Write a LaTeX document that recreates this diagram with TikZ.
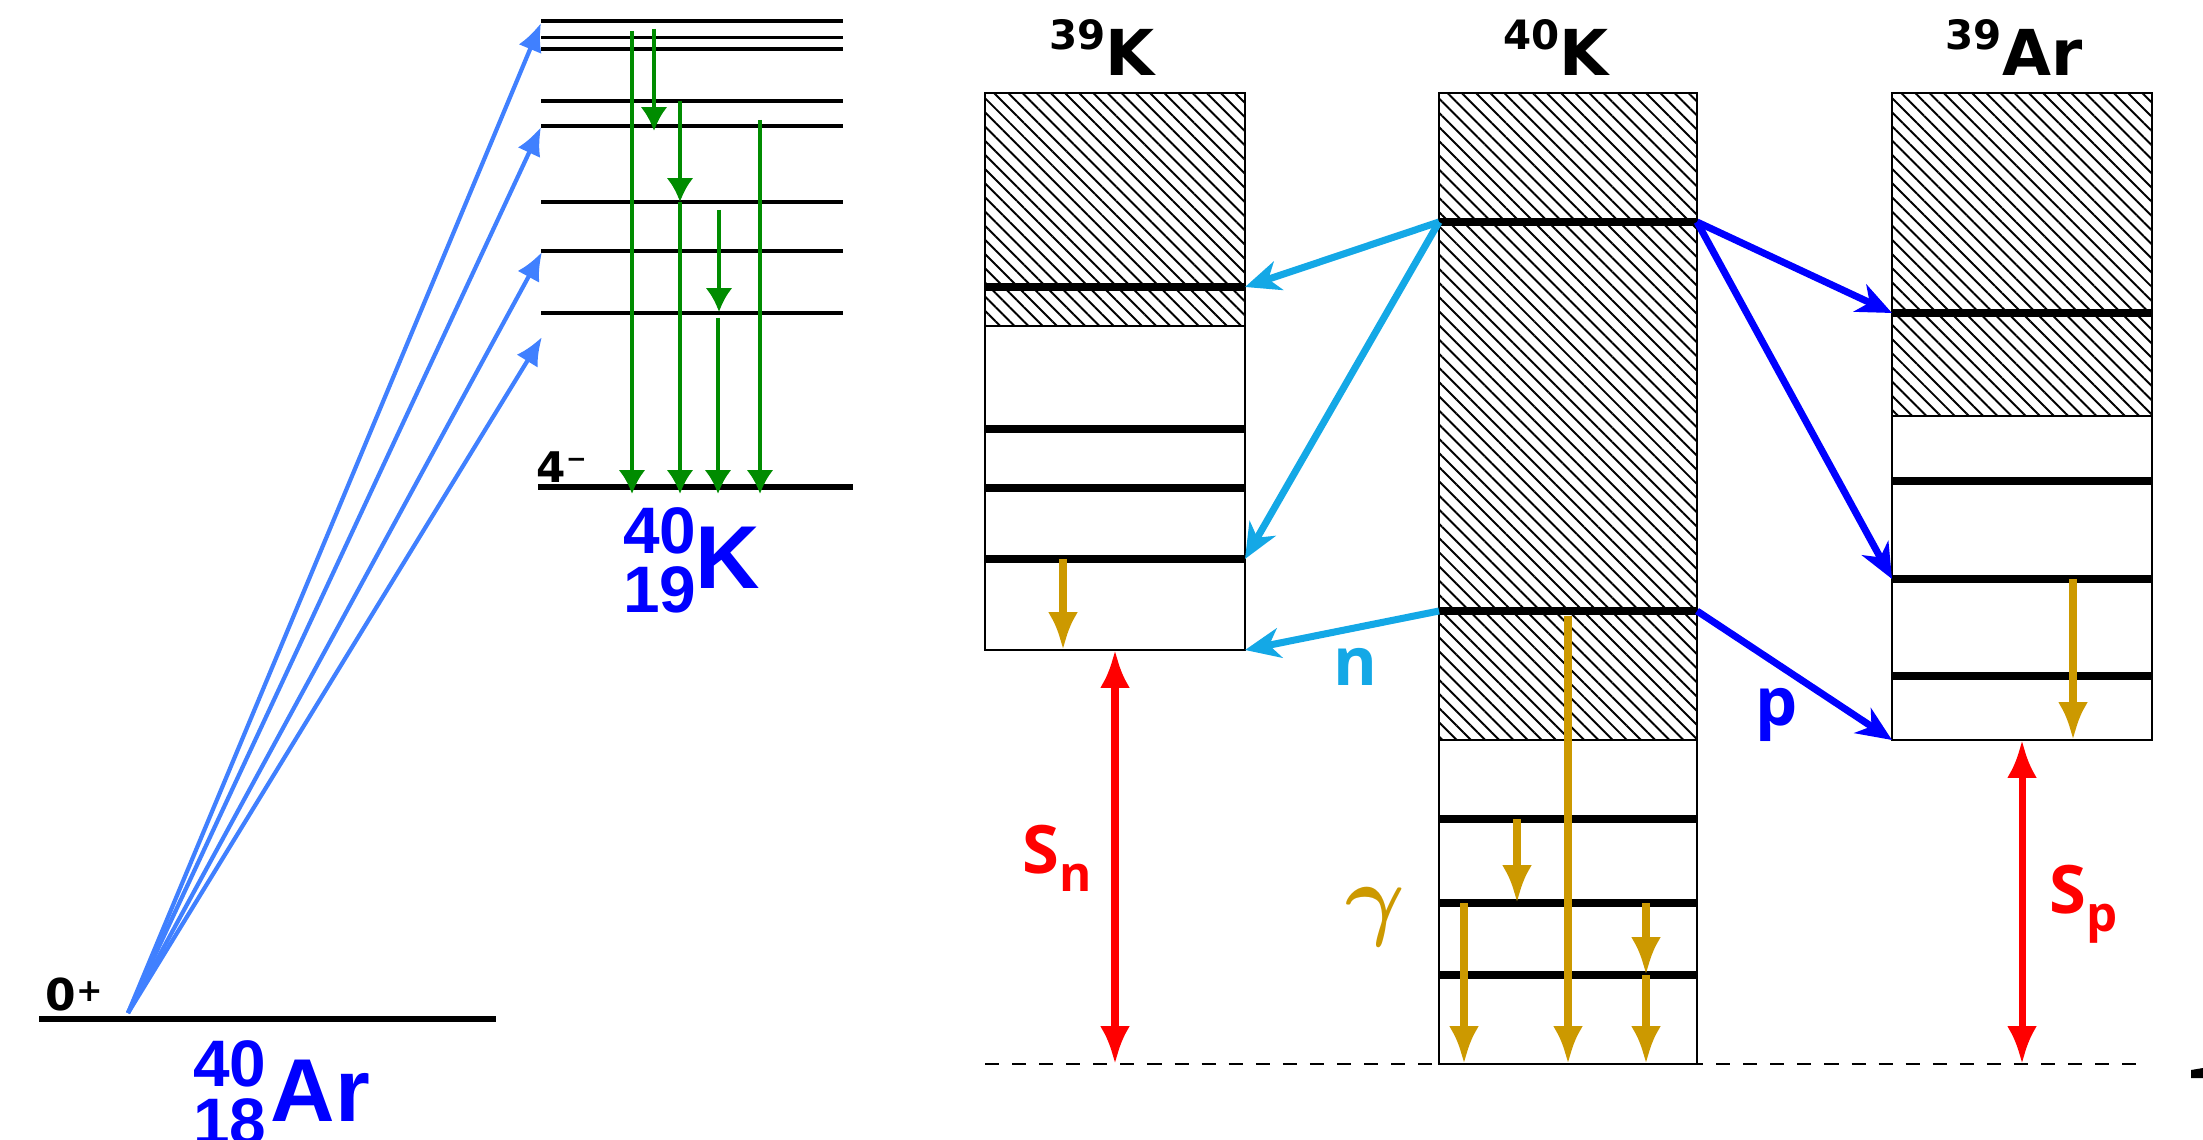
\documentclass[tikz,border=0pt]{standalone}
\usepackage{fontspec}
\usepackage{graphicx}
\usetikzlibrary{arrows.meta,patterns.meta}
\newfontfamily\dejav{DejaVu Sans}
\newfontfamily\libsans{Liberation Sans}
\newfontfamily\opensans{Open Sans}
\definecolor{lblue}{RGB}{64,128,255}
\definecolor{dgreen}{RGB}{0,140,0}
\definecolor{cyanarr}{RGB}{20,168,230}
\definecolor{goldarr}{RGB}{204,153,0}
\definecolor{pureblue}{RGB}{0,0,255}
\definecolor{purered}{RGB}{255,0,0}
\newcommand\isosup[1]{\raisebox{7.4pt}{\fontsize{11.5}{12}\selectfont #1}}
\begin{document}
\begin{tikzpicture}[x=0.01cm,y=-0.01cm,
  lvl/.style={line width=0.95pt},
  gndlvl/.style={line width=1.5pt},
  thicklvl/.style={line width=2.2pt},
  boxout/.style={line width=0.6pt},
  hatchfill/.style={pattern={Lines[angle=-45,distance=2.85pt,line width=0.55pt]}},
  excarr/.style={lblue,line width=1.2pt,-{Latex[length=8pt,width=7pt]}},
  greenarr/.style={dgreen,line width=1.1pt,-{Latex[length=6.8pt,width=7.6pt]}},
  goldgam/.style={goldarr,line width=2.2pt,-{Latex[length=10.8pt,width=8.5pt]}},
  narr/.style={cyanarr,line width=2pt,-{Stealth[length=10pt,width=8.5pt,inset=3pt]}},
  parr/.style={pureblue,line width=2pt,-{Stealth[length=10pt,width=8.5pt,inset=3pt]}},
  separr/.style={purered,line width=2pt,{Latex[length=10.8pt,width=8.5pt]}-{Latex[length=10.8pt,width=8.5pt]}},
  titlef/.style={inner sep=0pt,font=\dejav\bfseries\fontsize{18}{20}\selectfont,anchor=base},
  nucdig/.style={inner sep=0pt,text depth=0pt,text=pureblue,font=\libsans\bfseries\fontsize{18.7}{20}\selectfont,anchor=base east},
  nucel/.style={inner sep=0pt,text=pureblue,font=\libsans\bfseries\fontsize{25.4}{27}\selectfont,anchor=base west},
  spinf/.style={inner sep=0pt,anchor=base west,font=\dejav\bfseries},
  partf/.style={inner sep=0pt,anchor=base west,font=\opensans\bfseries\fontsize{19}{20}\selectfont}
]
\useasboundingbox (0,0) rectangle (2203,1140);

% ---------- left: 40Ar ground state ----------
\draw[gndlvl] (39,1019) -- (496,1019);
\node[spinf] (spinAr) at (45,1010) {\fontsize{12.5}{13}\selectfont 0\raisebox{2.3pt}{\fontsize{9}{9}\selectfont +}};
\node[nucdig] (ArA) at (267,1086) {40};
\node[nucdig] (ArZ) at (267,1144) {18};
\node[nucel] (ArEl) at (270,1121) {Ar};

% ---------- left: 40K levels ----------
\foreach \yy in {21,37.5,49,101,126,202,251,313}
  \draw[lvl] (541,\yy) -- (843,\yy);
\draw[gndlvl] (538,487) -- (853,487);
\node[spinf] (spinK) at (536,482) {\fontsize{12}{13}\selectfont 4\raisebox{4.1pt}{\fontsize{7}{7}\selectfont \symbol{"2212}}};
\node[nucdig] (KA) at (697,554) {40};
\node[nucdig] (KZ) at (697,612) {19};
\node[nucel] (KEl) at (695,588) {K};

% excitation arrows
\coordinate (src) at (128,1013);
\coordinate (e1) at (541,23);
\coordinate (e2) at (541,127);
\coordinate (e3) at (542,252);
\coordinate (e4) at (542,337);
\foreach \t in {e1,e2,e3,e4} \draw[excarr] (src) -- (\t);

% green gamma cascade
\coordinate (g1a) at (632,31);  \coordinate (g1b) at (632,494);
\coordinate (g2a) at (654,29);  \coordinate (g2b) at (654,131);
\coordinate (g3a) at (680,101); \coordinate (g3b) at (680,202); \coordinate (g3c) at (680,494);
\coordinate (g4a) at (719,210); \coordinate (g4b) at (719,312);
\coordinate (g5a) at (718,318); \coordinate (g5b) at (718,494);
\coordinate (g6a) at (760,120); \coordinate (g6b) at (760,494);
\draw[greenarr] (g1a) -- (g1b);
\draw[greenarr] (g2a) -- (g2b);
\draw[greenarr] (g3a) -- (g3b);
\draw[greenarr] (g3b) -- (g3c);
\draw[greenarr] (g4a) -- (g4b);
\draw[greenarr] (g5a) -- (g5b);
\draw[greenarr] (g6a) -- (g6b);

% ---------- dashed reference line ----------
\draw[line width=0.6pt,dash pattern=on 4pt off 3.7pt] (985,1064) -- (2148,1064);

% ---------- 39K box ----------
\fill[hatchfill] (985,93) rectangle (1245,326);
\draw[boxout] (985,326) -- (1245,326);
\draw[boxout] (985,93) rectangle (1245,650);
\foreach \yy in {287,429,488,559} \draw[thicklvl] (985,\yy) -- (1245,\yy);
\node[titlef] (t39K) at (1102,76) {\isosup{39}K};
\draw[goldgam] (1063,559) -- (1063,650);

% ---------- 40K box ----------
\fill[hatchfill] (1439,93) rectangle (1697,740);
\draw[boxout] (1439,740) -- (1697,740);
\draw[boxout] (1439,93) rectangle (1697,1064);
\foreach \yy in {222,611,819,903,975} \draw[thicklvl] (1439,\yy) -- (1697,\yy);
\node[titlef] (t40K) at (1556,76) {\isosup{40}K};
\draw[goldgam] (1568,616) -- (1568,1064);
\draw[goldgam] (1517,819) -- (1517,903);
\draw[goldgam] (1464,903) -- (1464,1064);
\draw[goldgam] (1646,903) -- (1646,975);
\draw[goldgam] (1646,975) -- (1646,1064);
\node[inner sep=0pt,text=goldarr] (gam) at (1375,917) {\scalebox{2.6}{\boldmath$\gamma$}};

% ---------- 39Ar box ----------
\fill[hatchfill] (1892,93) rectangle (2152,416);
\draw[boxout] (1892,416) -- (2152,416);
\draw[boxout] (1892,93) rectangle (2152,740);
\foreach \yy in {313,481,579,676} \draw[thicklvl] (1892,\yy) -- (2152,\yy);
\node[titlef] (t39Ar) at (2014,76) {\isosup{39}Ar};
\draw[goldgam] (2073,579) -- (2073,740);

% ---------- emission arrows ----------
\coordinate (kA_l) at (1439,222);
\coordinate (kB_l) at (1439,611);
\coordinate (kA_r) at (1697,222);
\coordinate (kB_r) at (1697,611);
\coordinate (n1) at (1245,287);
\coordinate (n2) at (1245,559);
\coordinate (n3) at (1245,650);
\coordinate (p1) at (1892,313);
\coordinate (p2) at (1892,579);
\coordinate (p3) at (1892,740);
\draw[narr] (kA_l) -- (n1);
\draw[narr] (kA_l) -- (n2);
\draw[narr] (kB_l) -- (n3);
\draw[parr] (kA_r) -- (p1);
\draw[parr] (kA_r) -- (p2);
\draw[parr] (kB_r) -- (p3);
\node[partf,text=cyanarr] (nlab) at (1333,685) {n};
\node[partf,text=pureblue] (plab) at (1755,725) {p};

% ---------- separation energies ----------
\coordinate (sn1) at (1115,650);
\coordinate (sn2) at (1115,1064);
\coordinate (sp1) at (2022,740);
\coordinate (sp2) at (2022,1064);
\draw[separr] (sn1) -- (sn2);
\draw[separr] (sp1) -- (sp2);
\node[partf,text=purered] (snlab) at (1022,873) {S\raisebox{-5.4pt}{\fontsize{14}{15}\selectfont n}};
\node[partf,text=purered] (splab) at (2049,913) {S\raisebox{-5.4pt}{\fontsize{14}{15}\selectfont p}};

% cut-off mark at right edge
\fill (2191,1070) -- (2203,1068) -- (2203,1078) -- (2191,1078) -- cycle;
\end{tikzpicture}
\end{document}
